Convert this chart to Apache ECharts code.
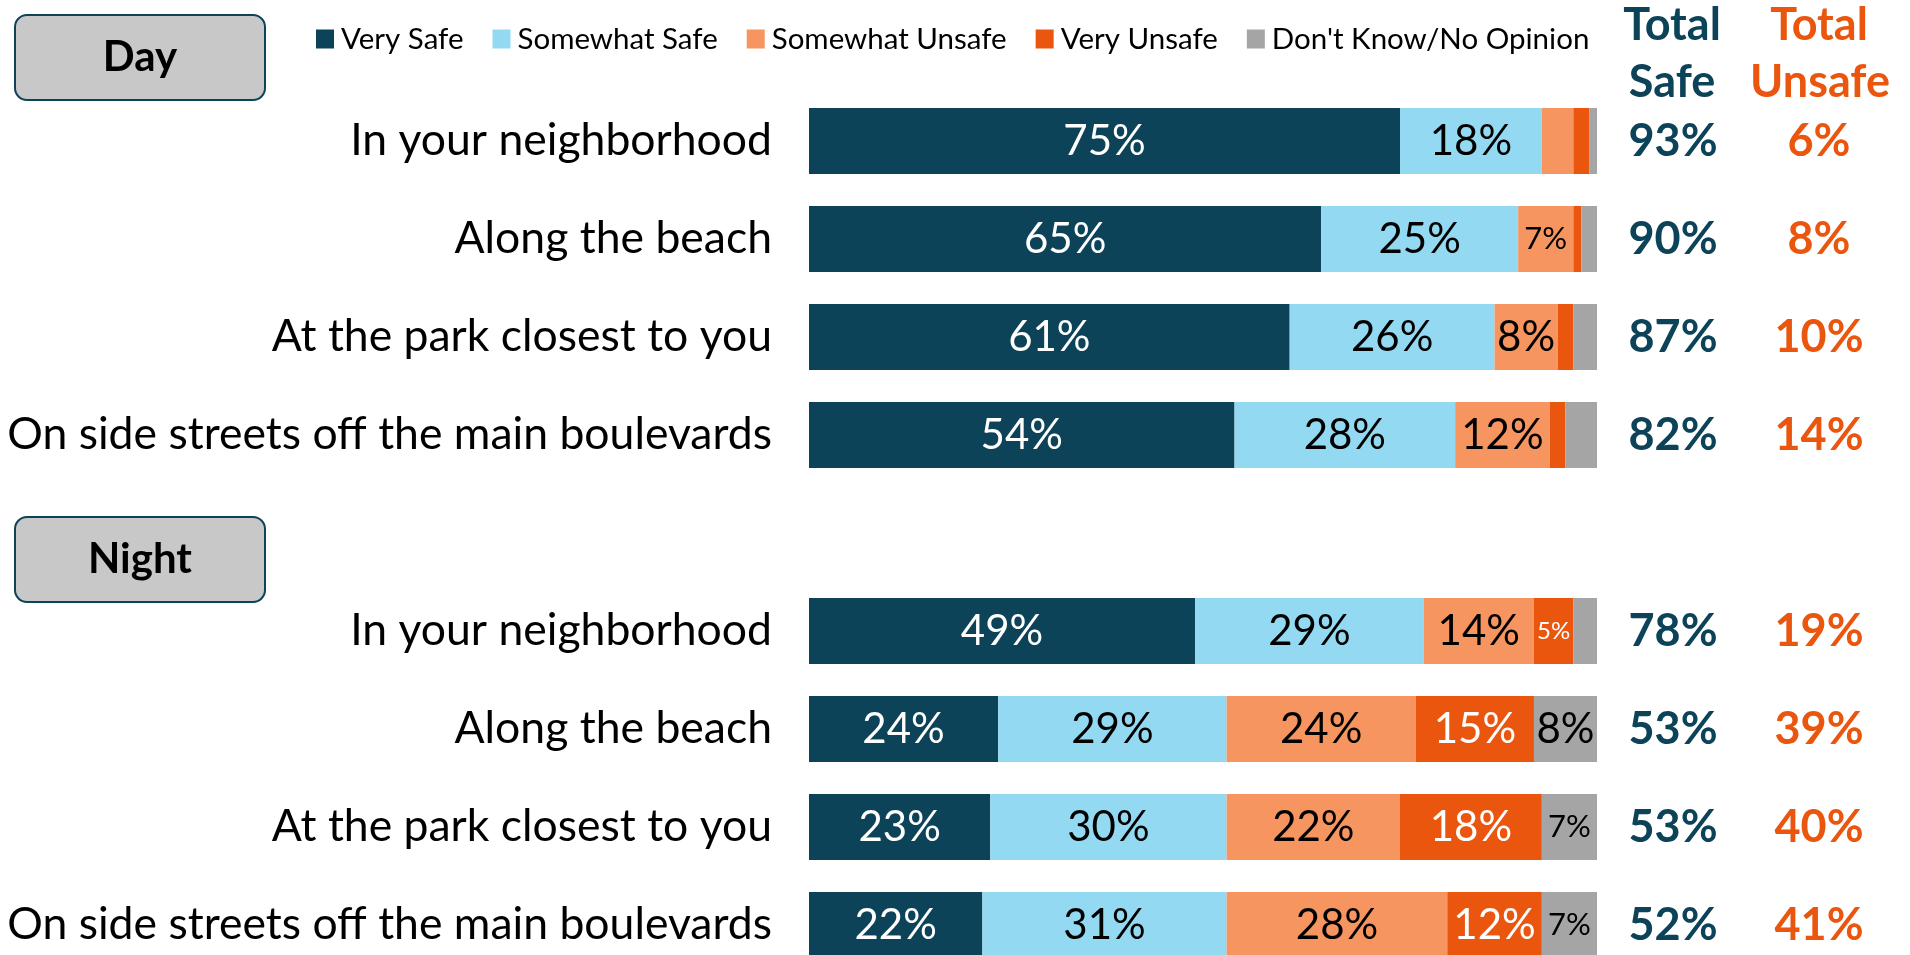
<!DOCTYPE html>
<html>
<head>
<meta charset="utf-8">
<script src="https://cdn.jsdelivr.net/npm/echarts@6/dist/echarts.min.js"></script>
<style>
html,body{margin:0;padding:0;background:#fff;}
#main{width:1910px;height:955px;}
</style>
</head>
<body>
<div id="main"></div>
<script>
// rows top to bottom: 4 Day rows, one empty spacer, 4 Night rows
var categories = ['In your neighborhood','Along the beach','At the park closest to you','On side streets off the main boulevards','',
                  'In your neighborhood','Along the beach','At the park closest to you','On side streets off the main boulevards'];
var legendNames = ['Very Safe','Somewhat Safe','Somewhat Unsafe','Very Unsafe',"Don't Know/No Opinion"];

var verySafe       = [75, 65, 61, 54, null, 49, 24, 23, 22];
var somewhatSafe   = [18, 25, 26, 28, null, 29, 29, 30, 31];
var somewhatUnsafe = [ 4,  7,  8, 12, null, 14, 24, 22, 28];
var veryUnsafe     = [ 2,  1,  2,  2, null,  5, 15, 18, 12];
var dontKnow       = [ 1,  2,  3,  4, null,  3,  8,  7,  7];

var totalSafe   = [93, 90, 87, 82, null, 78, 53, 53, 52];
var totalUnsafe = [ 6,  8, 10, 14, null, 19, 39, 40, 41];

var colorData = ['#0c4358','#93d9f2','#f6955f','#ea560d','#a5a5a5'];
var labelColor = ['#fff','#000','#000','#fff','#000'];
var fontName = 'Lato';

function labelSize(v){
    if(v>=8){ return 42; }
    if(v>=6){ return 31; }
    return 24;
}

function buildData(vals){
    var out=[];
    for(var i=0;i<vals.length;i++){
        var v=vals[i];
        if(v==null){ out.push(null); continue; }
        out.push({value:v, label:{show: v>=5, fontSize: labelSize(v)}});
    }
    return out;
}

var seriesDatas = [verySafe, somewhatSafe, somewhatUnsafe, veryUnsafe, dontKnow];
var seriesObj = [];
for(var i=0;i<seriesDatas.length;i++){
    seriesObj.push({
        name: legendNames[i],
        type: 'bar',
        stack: 'all',
        barWidth: 66,
        data: buildData(seriesDatas[i]),
        itemStyle: {color: colorData[i]},
        label: {
            show: true,
            position: 'inside',
            color: labelColor[i],
            fontFamily: fontName,
            formatter: '{c}%'
        }
    });
}

function boxGraphic(txt, x, y, w, h){
    return {
        type: 'group', left: x, top: y,
        children: [
            {type:'rect', shape:{x:0,y:0,width:w,height:h,r:12},
             style:{fill:'#c8c8c8', stroke:'#0c4358', lineWidth:2}},
            {type:'text', style:{text:txt, x:w/2, y:h/2, align:'center', verticalAlign:'middle',
             font:'bold 42px Lato', fill:'#000'}}
        ]
    };
}

function headText(txt, x, y, color){
    return {type:'text', x:x, y:y, style:{text:txt, align:'center', verticalAlign:'middle',
            font:'bold 45px Lato', fill:color}};
}

var chart = echarts.init(document.getElementById('main'));
var option = {
    animation: false,
    color: colorData,
    legend: {
        left: 316,
        top: 24,
        padding: 0,
        data: legendNames,
        icon: 'rect',
        itemWidth: 18,
        itemHeight: 19,
        itemGap: 29,
        textStyle: {fontFamily: fontName, fontSize: 29.5, color: '#000', padding:[0,0,0,2]}
    },
    grid: {left: 809, width: 788, top: 92, height: 882, outerBoundsMode: 'none'},
    xAxis: {type: 'value', min: 0, max: 100, show: false},
    yAxis: [
        {
            type: 'category',
            data: categories,
            inverse: true,
            axisLine: {show: false},
            axisTick: {show: false},
            axisLabel: {margin: 37, fontFamily: fontName, fontSize: 44.5, color: '#000'}
        },
        {
            type: 'category',
            data: categories,
            inverse: true,
            position: 'right',
            axisLine: {show: false},
            axisTick: {show: false},
            axisLabel: {
                margin: 16,
                formatter: function(val, idx){
                    if(totalSafe[idx]==null){ return ''; }
                    return '{s|'+totalSafe[idx]+'%}{u|'+totalUnsafe[idx]+'%}';
                },
                rich: {
                    s: {width: 120, align: 'center', fontFamily: fontName, fontWeight: 'bold', fontSize: 45, color: '#0c4358'},
                    u: {width: 172, align: 'center', fontFamily: fontName, fontWeight: 'bold', fontSize: 45, color: '#ea560d'}
                }
            }
        }
    ],
    graphic: [
        boxGraphic('Day', 14, 14, 250, 85),
        boxGraphic('Night', 14, 516, 250, 85),
        headText('Total', 1672, 25, '#0c4358'),
        headText('Safe', 1672, 82, '#0c4358'),
        headText('Total', 1819, 25, '#ea560d'),
        headText('Unsafe', 1820, 82, '#ea560d')
    ],
    series: seriesObj
};
chart.setOption(option);
</script>
</body>
</html>
